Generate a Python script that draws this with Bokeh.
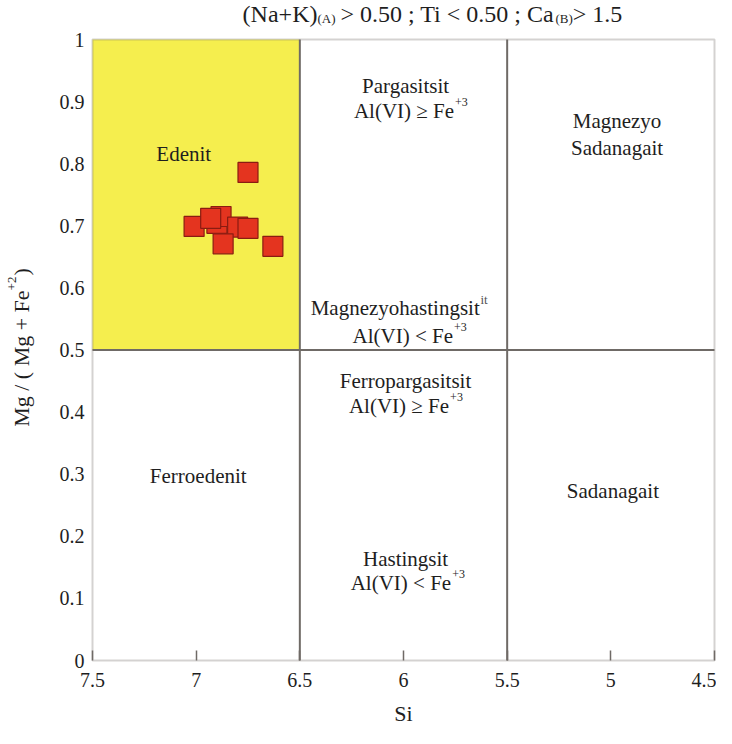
import math
from bokeh.plotting import figure
from bokeh.models import Range1d, FixedTicker, CustomJSTickFormatter, Label, BoxAnnotation, ColumnDataSource
from bokeh.embed import file_html
from bokeh.resources import INLINE

# ---- data ----
si_values = [6.75, 7.01, 6.90, 6.88, 6.93, 6.80, 6.75, 6.87, 6.63]
mg_values = [0.786, 0.699, 0.704, 0.715, 0.712, 0.698, 0.696, 0.671, 0.667]

x_ticks = [7.5, 7, 6.5, 6, 5.5, 5, 4.5]
y_ticks = [0, 0.1, 0.2, 0.3, 0.4, 0.5, 0.6, 0.7, 0.8, 0.9, 1]

si_min, si_max = 4.5, 7.5
mg_min, mg_max = 0.0, 1.0
si_bounds = [6.5, 5.5]
mg_bound = 0.5

field_names = ["Edenit", "Magnezyo", "Sadanagait", "Ferroedenit", "Sadanagait"]
field_si = [7.06, 4.97, 4.97, 6.99, 4.99]
field_mg = [0.816, 0.869, 0.826, 0.297, 0.273]

cond_names = ["Pargasitsit", "Magnezyohastingsit", "Ferropargasitsit", "Hastingsit"]
cond_name_si = [5.99, 6.04, 5.99, 5.99]
cond_name_mg = [0.925, 0.568, 0.450, 0.163]
cond_texts = ["Al(VI) \u2265 Fe", "Al(VI) < Fe", "Al(VI) \u2265 Fe", "Al(VI) < Fe"]
cond_anchor_si = [5.756, 5.761, 5.780, 5.770]
cond_mg = [0.885, 0.522, 0.410, 0.125]

FONT = "Liberation Serif"
TXT = "#1e1e1e"
LINE = "#6f6a66"

# frame covers the whole canvas so outer texts stay visible
W, H = 716, 728
px_x = (714 - 92) / 3.0
px_y = (660 - 39) / 1.0
x_start = si_max + 92 / px_x
x_end = si_min - (W - 714) / px_x
y_top = mg_max + 39 / px_y
y_bot = mg_min - (H - 660) / px_y

p = figure(width=W, height=H, output_backend="svg", toolbar_location=None,
           x_range=Range1d(x_start, x_end), y_range=Range1d(y_bot, y_top),
           min_border=0, min_border_left=0, min_border_right=0,
           min_border_top=0, min_border_bottom=0)
p.xgrid.visible = False
p.ygrid.visible = False
p.outline_line_color = None
p.background_fill_color = "white"
p.border_fill_color = "white"

# yellow Edenit field
p.add_layout(BoxAnnotation(left=si_max, right=si_bounds[0], bottom=mg_bound, top=mg_max,
                           fill_color="#f5ee4e", fill_alpha=1.0, line_color=None, level="underlay"))
# field boundaries
seg = ColumnDataSource(dict(
    x0=[si_bounds[0], si_bounds[1], si_max],
    y0=[mg_min, mg_min, mg_bound],
    x1=[si_bounds[0], si_bounds[1], si_min],
    y1=[mg_max, mg_max, mg_bound]))
p.segment("x0", "y0", "x1", "y1", source=seg, line_color=LINE, line_width=2)
# diagram frame
p.add_layout(BoxAnnotation(left=si_max, right=si_min, bottom=mg_min, top=mg_max,
                           fill_alpha=0, line_color=LINE, line_width=2, level="overlay"))

src = ColumnDataSource(dict(si=si_values, mg=mg_values))
p.scatter("si", "mg", source=src, marker="square", size=20,
          fill_color="#e4341f", line_color="#8a1c12", line_width=1.2)

fmt = CustomJSTickFormatter(code="return tick.toString();")
p.xaxis.ticker = FixedTicker(ticks=x_ticks)
p.yaxis.ticker = FixedTicker(ticks=y_ticks)
p.xaxis.formatter = fmt
p.yaxis.formatter = fmt
p.xaxis.fixed_location = mg_min
p.yaxis.fixed_location = si_max
for ax in (p.xaxis, p.yaxis):
    ax.axis_line_color = None
    ax.minor_tick_line_color = None
    ax.major_label_text_font = FONT
    ax.major_label_text_font_size = "20px"
    ax.major_label_text_color = TXT
    ax.major_tick_line_color = LINE
    ax.major_tick_line_width = 1.5
p.xaxis.major_tick_in = 10
p.xaxis.major_tick_out = 0
p.yaxis.major_tick_in = 0
p.yaxis.major_tick_out = 0
p.xaxis.major_label_standoff = 12
p.yaxis.major_label_standoff = 8

def lab(text, x, y, size="21px", align="center", baseline="alphabetic", angle=0, xo=0, yo=0, color=TXT):
    p.add_layout(Label(x=x, y=y, text=text, text_font=FONT, text_font_size=size,
                       text_align=align, text_baseline=baseline, angle=angle,
                       x_offset=xo, y_offset=yo, text_color=color))

for t, x, y in zip(field_names, field_si, field_mg):
    lab(t, x, y)
for t, x, y in zip(cond_names, cond_name_si, cond_name_mg):
    lab(t, x, y)
for t, x, y in zip(cond_texts, cond_anchor_si, cond_mg):
    lab(t, x, y, align="right")
    lab("+3", x, y, size="12px", align="left", xo=1, yo=9)
lab("it", 5.629, 0.568, size="13px", align="left", yo=8, color="#555555")

# x-axis title
lab("Si", 6.0, -0.086, size="22px")

# title with subscripts
ty = 1.0415
lab("(Na+K)", 6.415, ty, size="24px", align="right")
lab("(A)", 6.415, ty, size="13px", align="left", xo=0, yo=-5)
lab("> 0.50 ; Ti < 0.50 ; Ca", 6.304, ty, size="24px", align="left")
lab("(B)", 5.267, ty, size="13px", align="left", xo=0, yo=-5)
lab("> 1.5", 5.184, ty, size="24px", align="left")

# rotated y-axis title with superscript
yx = 7.842
lab("Mg / ( Mg + Fe", yx, 0.596, size="22px", align="right", angle=math.pi / 2)
lab("+2", yx, 0.596, size="13px", align="left", angle=math.pi / 2, xo=-10)
lab(" )", yx, 0.620, size="22px", align="left", angle=math.pi / 2)

open("out.html", "w").write(file_html(p, INLINE))
